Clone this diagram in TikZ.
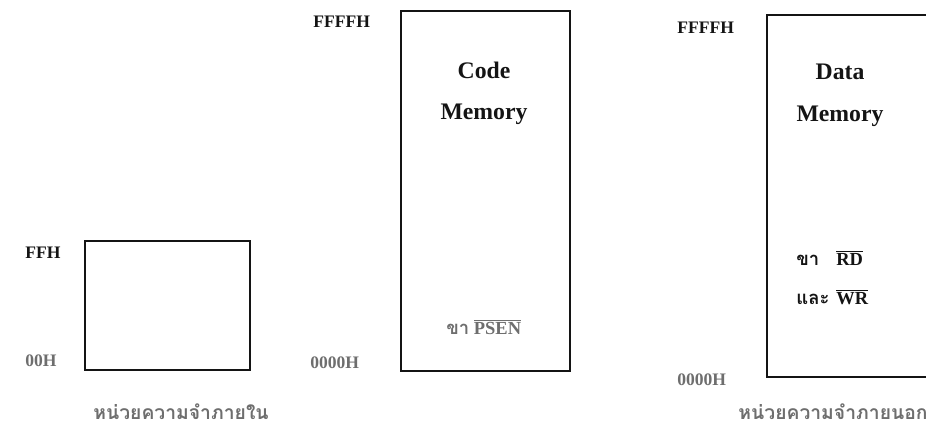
\documentclass[tikz,border=0pt]{standalone}
\usepackage{fontspec}
\setmainfont{Liberation Serif}
\newfontfamily\thaifont[Script=Thai]{Loma}
\usetikzlibrary{positioning}
\definecolor{ink}{RGB}{20,20,20}
\definecolor{faded}{RGB}{110,110,110}

\begin{document}
\begin{tikzpicture}[x=0.02cm, y=-0.02cm,
    mem/.style={rectangle, draw=ink, line width=1.2pt, inner sep=0pt, anchor=north west},
    addr/.style={font=\bfseries\fontsize{10}{12}\selectfont, ink, inner sep=0pt, anchor=west},
    title/.style={font=\bfseries\fontsize{13.5}{16}\selectfont, ink},
    pin/.style={font=\bfseries\fontsize{10.5}{12}\selectfont, ink, inner sep=0pt, anchor=west},
    caption/.style={font=\thaifont\bfseries\fontsize{11}{13}\selectfont, faded}]

    \useasboundingbox (0,0) rectangle (926,430);

    % Internal memory
    \node[mem, minimum width=3.3cm, minimum height=2.58cm] (intmem) at (84,240) {};
    \node[addr] (inttop) at (25,253) {FFH};
    \node[addr, faded] (intbot) at (25,361) {00H};
    \node[caption] (intcap) at (181,412) {หน่วยความจำภายใน};

    % Code memory
    \node[mem, minimum width=3.38cm, minimum height=7.2cm] (codemem) at (400,10) {};
    \node[addr] (codetop) at (313,22) {FFFFH};
    \node[addr, faded] (codebot) at (310,363) {0000H};
    \node[title] (codea) at (484,70) {Code};
    \node[title] (codeb) at (484,114) {Memory};
    \node[pin, faded] (psen) at (446,327) {{\thaifont ขา} $\overline{\mbox{PSEN}}$};

    % Data memory
    \node[mem, minimum width=3.6cm, minimum height=7.24cm] (datamem) at (766,14) {};
    \node[addr] (datatop) at (677,28) {FFFFH};
    \node[addr, faded] (databot) at (677,380) {0000H};
    \node[title] (dataa) at (840,72) {Data};
    \node[title] (datab) at (840,116) {Memory};
    \node[pin] (rdpin) at (796,258) {\makebox[0.8cm][l]{\thaifont ขา}$\overline{\mbox{RD}}$};
    \node[pin] (wrpin) at (796,297) {\makebox[0.8cm][l]{\thaifont และ}$\overline{\mbox{WR}}$};
    \node[caption] (extcap) at (833,412) {หน่วยความจำภายนอก};

\end{tikzpicture}
\end{document}
